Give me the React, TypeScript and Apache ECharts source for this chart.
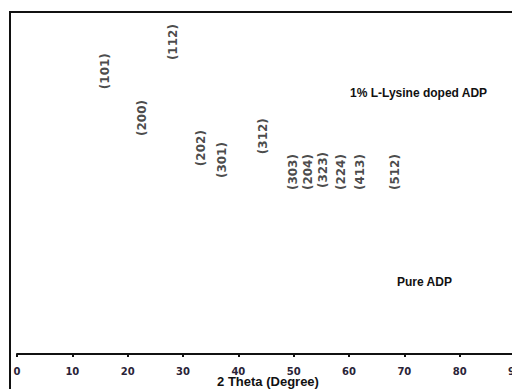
import React, { useEffect, useRef } from "react";
import * as echarts from "echarts";

const peakLabels = ["(101)", "(112)", "(200)", "(202)", "(301)", "(312)", "(303)", "(204)", "(323)", "(224)", "(413)", "(512)"];
const peakTheta = [15.9, 28.2, 22.6, 33.2, 37.0, 44.4, 49.8, 52.6, 55.3, 58.5, 61.9, 68.3];
const peakHeight = [82.7, 91.2, 69.0, 60.2, 56.7, 63.7, 53.2, 53.2, 53.8, 53.2, 53.2, 53.2];
const xTicks = [0, 10, 20, 30, 40, 50, 60, 70, 80, 90];
const sampleNames = ["1% L-Lysine doped ADP", "Pure ADP"];
const xTitle = "2 Theta (Degree)";

export default function App() {
  const ref = useRef<HTMLDivElement>(null);
  useEffect(() => {
    if (!ref.current) return;
    const chart = echarts.init(ref.current, null, { renderer: "svg" });
    const data = peakLabels.map((name, i) => ({ name, value: [peakTheta[i], peakHeight[i]] }));
    chart.setOption({
      animation: false,
      backgroundColor: "#ffffff",
      grid: { left: 17, top: 12, width: 498, height: 342, containLabel: false, outerBoundsMode: "none" },
      xAxis: {
        type: "value",
        min: xTicks[0],
        max: xTicks[xTicks.length - 1],
        interval: 10,
        splitLine: { show: false },
        axisLine: { show: true, lineStyle: { color: "#111", width: 2 } },
        axisTick: { show: true, length: 3, lineStyle: { color: "#111", width: 2 } },
        axisLabel: {
          margin: 12,
          fontFamily: "DejaVu Sans",
          fontWeight: "bold",
          fontSize: 10,
          color: "#2a2438",
        },
      },
      yAxis: {
        type: "value",
        min: 0,
        max: 100,
        show: false,
      },
      series: [
        {
          type: "scatter",
          symbolSize: 0,
          data,
          label: {
            show: true,
            position: "inside",
            rotate: 90,
            formatter: (p: any) => p.name,
            fontFamily: "DejaVu Sans",
            fontWeight: "bold",
            fontSize: 12,
            color: "#1a1a1a",
          },
        },
      ],
      graphic: [
        {
          type: "rect",
          shape: { x: 10, y: 12, width: 700, height: 600 },
          style: { fill: "none", stroke: "#111", lineWidth: 2 },
          silent: true,
        },
        {
          type: "text",
          x: 268,
          y: 381,
          style: {
            text: xTitle,
            fontFamily: "Liberation Sans",
            fontWeight: "bold",
            fontSize: 13,
            fill: "#111",
            textAlign: "center",
            textVerticalAlign: "middle",
            letterSpacing: -0.8,
          },
        },
        {
          type: "text",
          x: 350,
          y: 93,
          style: {
            text: sampleNames[0],
            fontFamily: "Liberation Sans",
            fontWeight: "bold",
            fontSize: 12,
            fill: "#111",
            textVerticalAlign: "middle",
            letterSpacing: -0.6,
          },
        },
        {
          type: "text",
          x: 397,
          y: 282,
          style: {
            text: sampleNames[1],
            fontFamily: "Liberation Sans",
            fontWeight: "bold",
            fontSize: 12,
            fill: "#111",
            textVerticalAlign: "middle",
            letterSpacing: -0.6,
          },
        },
      ],
    });
    return () => chart.dispose();
  }, []);
  return (
    <div
      ref={ref}
      style={{ position: "fixed", left: 0, top: 0, width: 530, height: 389, background: "#fff" }}
    />
  );
}
